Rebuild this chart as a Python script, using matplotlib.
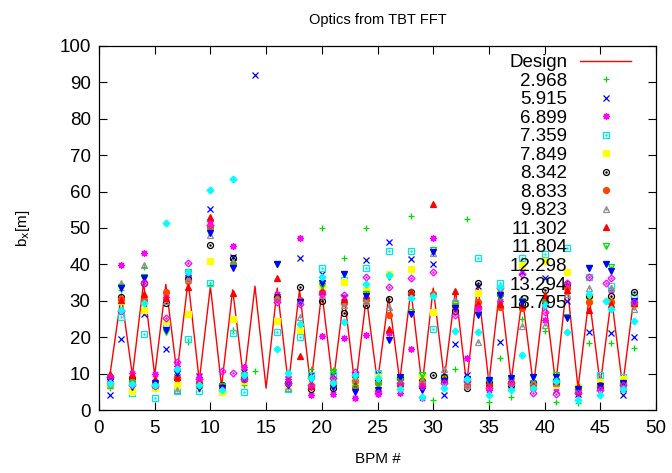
import numpy as np
from matplotlib import pyplot as plt

nan = np.nan

bpm = np.arange(1, 49)

# design beta function
design = [10, 31.5, 9.5, 35, 9.5, 34.5, 10, 35.5, 8, 34, 6.5, 33, 8, 34, 6, 33.5,
          7, 33, 6.5, 32.5, 7, 31.5, 6, 31, 7.5, 31, 8, 33, 6.5, 33.5, 8.5, 33,
          7, 34.5, 7.5, 34, 8, 31, 6.5, 32, 7, 35, 6, 31, 7, 31, 6.5, 30.5]

tunes = ['2.968', '5.915', '6.899', '7.359', '7.849', '8.342', '8.833',
         '9.823', '11.302', '11.804', '12.298', '13.294', '13.795']

bx_2968 = [6, 33, 7, 39.4, 7.5, 22, 8.5, 18.8, 7, 34.3, 6, 22, 6.9, 10.7, nan, nan,
           8, 30, 11.3, 49.9, 11, 41.8, 8, 50.1, 8.5, 37, 8, 53.3, 9, 2.7, 8, 11.4,
           52.5, 27, 2.3, 14.4, 3.7, 25, 6.5, 21.7, 2.3, 21.5, 2, 18.3, 6.5, 18.3, 6, 16.9]
bx_5915 = [4.2, 19.5, 6.5, 26.4, 7, 16.8, 9, 36, 9.3, 55.1, 6, 42, 10.5, 92, nan, nan,
           8.5, 41.7, 9.6, 37.4, 9.5, 31, 8.5, 41.2, 10, 46.2, 9.2, 41.4, 8.5, 40, 4.1, 18.1,
           9.5, 34, 8, 18.8, 8, 38, 7, 36.2, 5.5, 30, 4.3, 21.5, 7, 21.2, 4.1, 20.1]
bx_6899 = [8, 39.8, 10.3, 43.2, 9.8, 31, 12, 37, 9, 52, 7, 45.1, 11.9, nan, nan, 32,
           8.5, 47.2, 4.1, 20.3, 4.3, 19.7, 3.4, 20.6, 4.3, 21.1, 4.6, 16.8, 3.2, 47.3, 8.5, 29,
           14.4, 28, 5.5, 30, 8, 28, 6, 24.7, 6, 34, 5, 31, 6, 33, 6.5, 30]
bx_7359 = [7, 25.6, 4.6, 20.9, 3.4, 23.5, 5.2, 19.5, 5.2, 35, 5, 21.2, 5, nan, nan, 21.5,
           5.8, 20.1, 9.6, 38.9, 9.5, 35.7, 8.5, 38.9, 10.1, 43.8, 8.5, 43.7, 9.5, 22.2, 9, 29.5,
           8, 41.8, 8, 34.8, 7, 41.7, 7.5, 42.8, 8, 44.4, 6, 36.6, 9.6, 34, 9.2, 31.6]
bx_7849 = [6.8, 30, 5.2, 27.6, 6, 24.5, 6.9, 26.4, 6.5, 40.9, 5, 25, 8, nan, nan, 24.5,
           7, 22, 7, 34.3, 7.8, 35.2, 8, 33, 9, 37.5, 8, 38.7, 9, 27, 8.5, 28.8,
           7.5, 32.2, 7, 33, 7.5, 39.8, 7, 40.8, 6.9, 37.8, 6.4, 31, 7.8, 30, 8.5, 29]
bx_8342 = [9.2, 31.1, 8.7, 34.8, 7.2, 29.4, 8.7, 35.9, 7.5, 45.3, 6.9, 41.7, 8.5, nan, nan, 31,
           7.5, 33.7, 5.8, 29.9, 6, 26.7, 9.5, 28.8, 8, 30.4, 8.7, 32.5, 8, 9.6, 9, 27.2,
           6, 35, 7.5, 32, 6.8, 29, 7.5, 33, 8, 34.5, 5, 31.3, 6.5, 31.3, 7.5, 32.5]
bx_8833 = [7.5, 30.5, 8, 30.2, 7, 32.5, 8.7, 35.4, 7.5, 50.3, 6.5, 40, 9, nan, nan, 30.5,
           7.3, 30.2, 6.5, 32.5, 7, 29.5, 8, 30.2, 7.3, 26.1, 7, 32, 7.5, 32, 8.3, 28.5,
           7, 29.8, 6.9, 28.4, 7.5, 28, 7, 30, 7.5, 33.5, 5.5, 29.8, 7, 29.8, 7.5, 29]
bx_9823 = [7, 34.8, 8.3, 39.8, 6.8, 30, 5.5, 35.9, 7, 48, 6.5, 40.5, 9, nan, nan, 30.5,
           6, 25.6, 7.5, 31.5, 8.5, 28.8, 8.5, 30, 8.5, 28.4, 8, 32.7, 8.5, 43, 11.3, 30.2,
           7, 18.8, 9, 32.7, 7.8, 23.2, 8, 23.3, 7.5, 32, 6, 33.4, 6.5, 33.4, 7, 27.7]
bx_11302 = [10, 30.2, 9.5, 32, 8.5, 30.7, 9, 33.9, 8, 53.1, 7, 32.2, 10, nan, nan, 36.4,
            8, 14.8, 6.5, 32.8, 7.3, 30.5, 6.9, 31.5, 6, 22.2, 7.5, 32.5, 7, 56.5, 8.5, 32.7,
            8.5, 29, 7.5, 29, 8.5, 28.9, 6.5, 31.5, 8, 33, 6.5, 27.5, 7, 29, 6, 29.5]
bx_11804 = [7, 33.8, 7.5, 36.5, 6.5, 21.5, 10.5, 38, 6.3, 49.2, 6.5, 39.5, 9.5, nan, nan, 40.2,
            7, 29.5, 8.5, 34, 10.5, 37.5, 6, 32, 7, 36.5, 8, 27, 9.5, 44, 8, 28.5,
            8, 26.5, 8, 31, 8.5, 30, 9, 29, 9.5, 25.5, 5.5, 39, 6.5, 39.3, 7, 29.5]
bx_12298 = [8, 33.4, 6.4, 36.2, 7.5, 22, 10.1, 37.5, 6, 48.5, 6, 38.9, 8.7, nan, nan, 40,
            6.8, 29.8, 8.2, 34.8, 6.4, 37.3, 5, 31.3, 5.5, 19.2, 9, 26.5, 5.5, 43.5, 8, 27.9,
            8.5, 26.1, 8.2, 31.5, 8.8, 29.8, 9.2, 28.5, 9.2, 25.2, 5.8, 38.9, 6.5, 38.2, 7.5, 30]
bx_13294 = [9, 27.3, 6.9, 34.8, 6.5, 25.3, 13.3, 40.5, 8.5, 50.8, 10.7, 10.1, 8.5, nan, nan, 29.8,
            7.5, 29, 6.8, 32, 8.7, 31.6, 10.5, 36.6, 4.8, 33.7, 7.3, 36.4, 6.5, 37.8, 7.5, 26.1,
            8, 27.9, 6, 33.5, 7.3, 37.5, 4.6, 27, 4.3, 34.8, 4.8, 36.6, 5.5, 36.4, 7, 29.8]
bx_13795 = [7.5, 27.5, 7.2, 29.3, 7, 51.3, 11.4, 37.8, 7, 60.4, 5.5, 63.5, 9.5, nan, nan, 16.7,
            10.1, 23.6, 8.8, 36.6, 7.5, 24.3, 9.6, 34.5, 8.8, 37, 5.8, 30.7, 3.5, 31.3, 6, 21.7,
            8.5, 21.5, 4.1, 33.8, 5.5, 15.1, 6, 28.8, 8, 21.5, 2.7, 32, 4.1, 27.7, 5.8, 24.4]

series = [bx_2968, bx_5915, bx_6899, bx_7359, bx_7849, bx_8342, bx_8833,
          bx_9823, bx_11302, bx_11804, bx_12298, bx_13294, bx_13795]

# gnuplot-like point types: (marker, size, colour, filled, centre dot)
styles = [('+', 5, '#00e000', True, False), ('x', 4.5, '#0000ff', True, False),
          ((8, 2, 0), 5, '#ff00ff', True, False), ('s', 4.3, '#00e8e8', False, True),
          ('s', 4, '#ffff00', True, False), ('o', 4.3, '#000000', False, True),
          ('o', 4.3, '#ff4500', True, False), ('^', 4.5, '#909090', False, True),
          ('^', 4.5, '#ff0000', True, False), ('v', 4.5, '#00e000', False, True),
          ('v', 4.5, '#0000ff', True, False), ('D', 3.5, '#ff00ff', False, True),
          ('D', 3.5, '#00ffff', True, False)]

plt.rcParams['font.family'] = ['Liberation Sans', 'DejaVu Sans']
plt.rcParams['font.size'] = 13.5

fig = plt.figure(figsize=(6.72, 4.73), dpi=100)
ax = fig.add_axes([99 / 672, 63 / 473, 557 / 672, 364 / 473])

handles = []
labels = []
line, = ax.plot(bpm, design, color='#ff0000', lw=1.0)
handles.append(line)
labels.append('Design')
for vals, lab, (mk, size, col, filled, dot) in zip(series, tunes, styles):
    if filled:
        h, = ax.plot(bpm, vals, ls='none', marker=mk, ms=size, mew=0.9, color=col)
    else:
        h, = ax.plot(bpm, vals, ls='none', marker=mk, ms=size, mew=0.9, color=col,
                     mfc='none')
    if dot:
        d, = ax.plot(bpm, vals, ls='none', marker='.', ms=1.5, color=col)
        h = (h, d)
    handles.append(h)
    labels.append(lab)

ax.set_xlim(0, 50)
ax.set_ylim(0, 100)
ax.set_xticks(np.arange(0, 51, 5))
ax.set_yticks(np.arange(0, 101, 10))
ax.tick_params(direction='in', top=True, right=True, length=6, width=0.8)
ax.tick_params(axis='x', pad=7)
ax.tick_params(axis='y', pad=6)
for sp in ax.spines.values():
    sp.set_linewidth(0.9)

ax.set_title('Optics from TBT FFT', fontsize=10.5, pad=16)
ax.set_xlabel('BPM #', fontsize=11, labelpad=11)
ax.set_ylabel(r'b$_\mathrm{x}$[m]', fontsize=11, labelpad=20)

ax.legend(handles, labels, loc='upper right', bbox_to_anchor=(0.955, 0.978),
          frameon=False, markerfirst=False, handlelength=2.7, handletextpad=0.7,
          labelspacing=0.075, borderpad=0, borderaxespad=0, numpoints=1, fontsize=13.5)

plt.savefig('out.png', dpi=100)
